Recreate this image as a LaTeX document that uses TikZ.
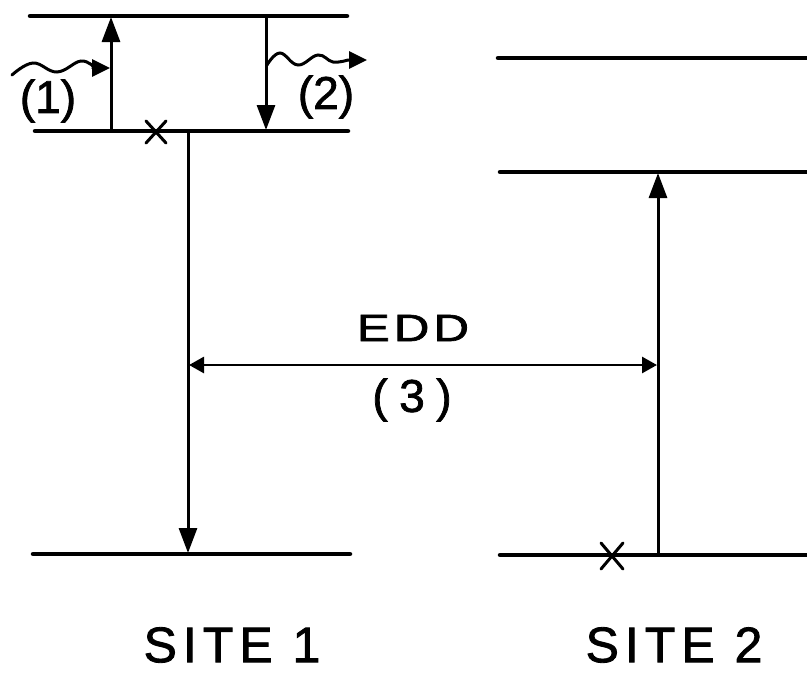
\documentclass[tikz,border=0pt]{standalone}
\usepackage{fontspec}
\setmainfont{Liberation Sans}[FakeBold=1.6]
\usetikzlibrary{arrows.meta}
\tikzset{
  level/.style={line width=4.5pt, line cap=round},
  trans/.style={line width=3pt, -{Triangle[length=25pt,width=18pt]}},
  edd/.style={line width=2.8pt, {Triangle[length=15pt,width=16pt]}-{Triangle[length=15pt,width=16pt]}},
  wave/.style={line width=3pt, line cap=round, -{Triangle[length=18pt,width=17pt]}},
  cross/.style={line width=3pt, line cap=round},
  lbl/.style={inner sep=0pt, font=\fontsize{46}{46}\selectfont},
  sitelbl/.style={inner sep=0pt, font=\fontsize{50}{50}\selectfont\addfontfeature{LetterSpace=12}},
}
\begin{document}
\begin{tikzpicture}[x=1pt,y=-1pt]
\useasboundingbox (0,0) rectangle (807,673);
% level end points
\coordinate (t1L) at (30,16);  \coordinate (t1R) at (347,16);
\coordinate (m1L) at (35,131); \coordinate (m1R) at (348,131);
\coordinate (b1L) at (33,554); \coordinate (b1R) at (350,554);
\coordinate (t2L) at (498,58); \coordinate (t2R) at (812,58);
\coordinate (m2L) at (500,172);\coordinate (m2R) at (812,172);
\coordinate (b2L) at (500,555);\coordinate (b2R) at (812,555);
\draw[level] (t1L) -- (t1R);
\draw[level] (m1L) -- (m1R);
\draw[level] (b1L) -- (b1R);
\draw[level] (t2L) -- (t2R);
\draw[level] (m2L) -- (m2R);
\draw[level] (b2L) -- (b2R);
% transitions
\coordinate (a1s) at (111,131); \coordinate (a1e) at (111,17);
\coordinate (a2s) at (266,16);  \coordinate (a2e) at (266,130);
\coordinate (a3s) at (188,131); \coordinate (a3e) at (188,553);
\coordinate (a4s) at (658,555); \coordinate (a4e) at (658,173);
\draw[trans] (a1s) -- (a1e);
\draw[trans] (a2s) -- (a2e);
\draw[trans] (a3s) -- (a3e);
\draw[trans] (a4s) -- (a4e);
% EDD transfer
\coordinate (e1) at (189,365); \coordinate (e2) at (657,365);
\draw[edd] (e1) -- (e2);
% photons
\coordinate (w1s) at (12,75); \coordinate (w1e) at (110,68);
\draw[wave] plot[smooth, tension=0.7] coordinates {(w1s) (33,63) (57,72) (81,61) (95,68)} -- (w1e);
\coordinate (w2s) at (267,65); \coordinate (w2e) at (367,60);
\draw[wave] plot[smooth, tension=0.7] coordinates {(w2s) (280,53) (298,65) (318,55) (333,62) (348,60)} -- (w2e);
% crosses
\coordinate (x1) at (156,132);
\draw[cross] ([shift={(-10,-11)}]x1) -- ([shift={(10,11)}]x1);
\draw[cross] ([shift={(10,-11)}]x1) -- ([shift={(-10,11)}]x1);
\coordinate (x2) at (612,556);
\draw[cross] ([shift={(-11,-13)}]x2) -- ([shift={(11,13)}]x2);
\draw[cross] ([shift={(11,-13)}]x2) -- ([shift={(-11,13)}]x2);
% labels
\node[lbl] (l1) at (48,101) {(1)};
\node[lbl] (l2) at (326,97) {(2)};
\node[inner sep=0pt, font=\fontsize{38}{38}\selectfont\addfontfeature{LetterSpace=8}, xscale=1.3] (ledd) at (413,328) {EDD};
\node[inner sep=0pt, font=\fontsize{46}{46}\selectfont\addfontfeature{LetterSpace=25}] (l3) at (412,400) {(3)};
\node[sitelbl] (s1) at (232,645) {SITE 1};
\node[sitelbl] (s2) at (674,645) {SITE 2};
\end{tikzpicture}
\end{document}
